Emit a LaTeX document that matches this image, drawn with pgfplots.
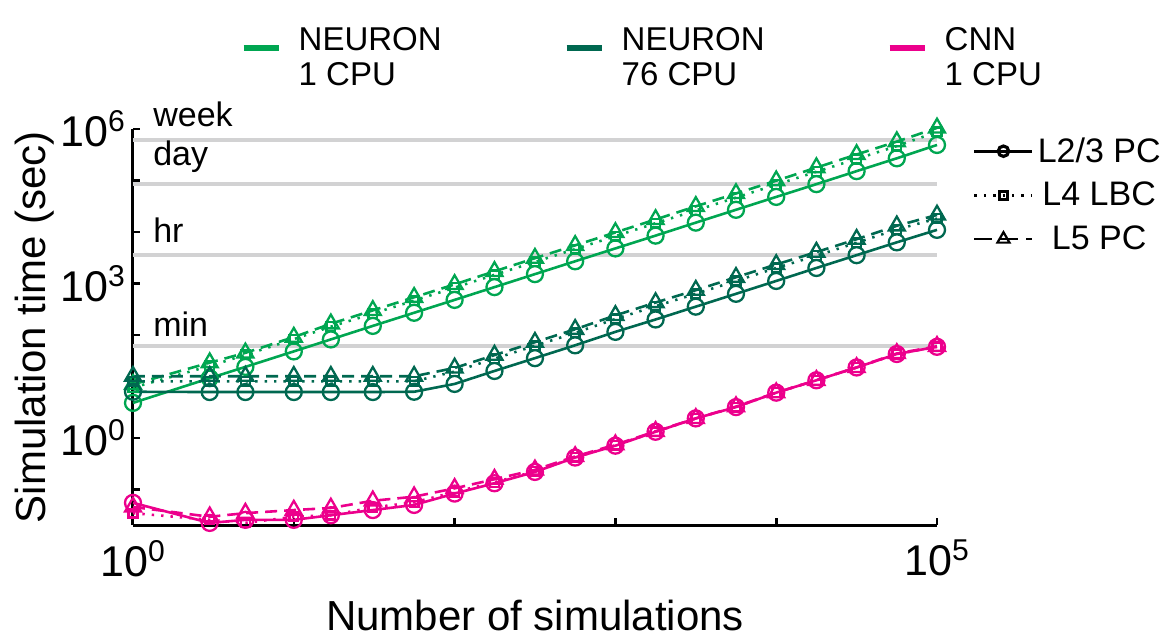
\documentclass[border=0pt]{standalone}
\usepackage{fontspec}
\setmainfont{Liberation Sans}
\usepackage{pgfplots}
\pgfplotsset{compat=1.18}
\definecolor{lg}{RGB}{0,166,81}
\definecolor{dg}{RGB}{0,104,80}
\definecolor{pk}{RGB}{236,0,140}
\definecolor{gl}{RGB}{210,210,211}
\pgfplotsset{
  cir/.style={line width=1.3pt, solid, mark=o, mark size=4pt, mark options={solid, line width=1.15pt}},
  sqr/.style={line width=1.3pt, dash pattern=on 1.2pt off 3.5pt, mark=square, mark size=2.2pt, mark options={solid, line width=1.15pt}},
  tri/.style={line width=1.3pt, dash pattern=on 6pt off 3.5pt, mark=triangle, mark size=4.6pt, mark options={solid, line width=1.15pt}},
}
\begin{document}
\begin{tikzpicture}
\useasboundingbox (-66.5pt,-57pt) rectangle (514.5pt,262.5pt);
\begin{axis}[
  at={(0pt,0pt)}, anchor=south west,
  scale only axis, width=402pt, height=198pt,
  xmode=log, ymode=log,
  xmin=1, xmax=1e5, ymin=0.0204, ymax=1e6,
  axis x line*=bottom, axis y line*=left,
  axis line style={line width=1.5pt, -},
  clip=false,
  xminorticks=false, yminorticks=false,
  tick align=inside, major tick length=3.5pt,
  every tick/.style={black, line width=1.3pt},
  xtick={1,10,100,1000,10000,100000},
  xticklabels={10\textsuperscript{0},,,,,10\textsuperscript{5}},
  ytick={0.1,1,10,100,1000,10000,100000,1000000},
  yticklabels={,10\textsuperscript{0},,,10\textsuperscript{3},,,10\textsuperscript{6}},
  tick label style={font=\fontsize{21.5pt}{24pt}\selectfont},
  xticklabel style={yshift=-4pt},
  xlabel={Number of simulations},
  ylabel={Simulation time (sec)},
  label style={font=\fontsize{21pt}{24pt}\selectfont},
  xlabel style={at={(axis description cs:0.5,-0.228)}, anchor=center},
  ylabel style={at={(axis description cs:-0.122,0.5)}, anchor=center},
  legend columns=3,
  legend image code/.code={\draw[#1, line width=3pt] (0pt,0pt) -- (17.5pt,0pt);},
  legend style={at={(axis description cs:0.126,1.205)}, anchor=west, draw=none, fill=none,
    font=\fontsize{16.5pt}{17.5pt}\selectfont,
    /tikz/every odd column/.append style={column sep=6.5pt},
    /tikz/every even column/.append style={column sep=5.5pt}},
]
\addlegendimage{lg}\addlegendentry{\parbox[c]{125pt}{NEURON\\1 CPU}}
\addlegendimage{dg}\addlegendentry{\parbox[c]{125pt}{NEURON\\76 CPU}}
\addlegendimage{pk}\addlegendentry{\parbox[c]{125pt}{CNN\\1 CPU}}

% reference time lines
\addplot[gl, line width=2pt, forget plot] coordinates {(1,604800) (100000,604800)};
\addplot[gl, line width=2pt, forget plot] coordinates {(1,86400) (100000,86400)};
\addplot[gl, line width=2pt, forget plot] coordinates {(1,3600) (100000,3600)};
\addplot[gl, line width=2pt, forget plot] coordinates {(1,60) (100000,60)};

% NEURON 1 CPU
\addplot[lg, cir, forget plot] coordinates {(1,4.8) (3,14.5) (5,24) (10,48) (17,82) (31,150) (56,270) (100,480) (177,850) (316,1520) (562,2700) (1000,4800) (1778,8500) (3162,15200) (5623,27000) (10000,48000) (17783,85000) (31623,152000) (56234,270000) (100000,490000)};
\addplot[lg, sqr, forget plot] coordinates {(1,9.5) (3,25) (5,41) (10,83) (17,145) (31,260) (56,465) (100,830) (177,1470) (316,2620) (562,4650) (1000,8300) (1778,14800) (3162,26200) (5623,46600) (10000,83000) (17783,148000) (31623,262000) (56234,466000) (100000,880000)};
\addplot[lg, tri, forget plot] coordinates {(1,11) (3,29) (5,45) (10,91) (17,165) (31,300) (56,540) (100,960) (177,1720) (316,3100) (562,5500) (1000,9800) (1778,17500) (3162,31500) (5623,56000) (10000,99000) (17783,178000) (31623,320000) (56234,570000) (100000,1050000)};

% NEURON 76 CPU
\addplot[dg, cir, forget plot] coordinates {(1,7.9) (3,7.8) (5,7.8) (10,7.8) (17,7.8) (31,7.8) (56,7.9) (100,11.2) (177,20) (316,35.5) (562,63) (1000,115) (1778,200) (3162,355) (5623,630) (10000,1120) (17783,2000) (31623,3550) (56234,6300) (100000,11000)};
\addplot[dg, sqr, forget plot] coordinates {(1,12.6) (3,12.6) (5,12.6) (10,12.6) (17,12.6) (31,12.6) (56,12.6) (100,19.5) (177,34.7) (316,61.7) (562,110) (1000,204) (1778,363) (3162,631) (5623,1120) (10000,2000) (17783,3470) (31623,6170) (56234,11200) (100000,18200)};
\addplot[dg, tri, forget plot] coordinates {(1,15.8) (3,15.8) (5,15.8) (10,15.8) (17,15.8) (31,15.8) (56,15.8) (100,22.9) (177,40.7) (316,72.4) (562,129) (1000,240) (1778,427) (3162,741) (5623,1320) (10000,2340) (17783,4070) (31623,7240) (56234,13200) (100000,21400)};

% CNN 1 CPU
\addplot[pk, cir, forget plot] coordinates {(1,0.055) (3,0.0224) (5,0.0257) (10,0.0257) (17,0.0316) (31,0.0398) (56,0.0501) (100,0.0832) (177,0.132) (316,0.219) (562,0.417) (1000,0.708) (1778,1.32) (3162,2.40) (5623,3.98) (10000,7.59) (17783,13.2) (31623,23.4) (56234,42.7) (100000,58.9)};
\addplot[pk, sqr, forget plot] coordinates {(1,0.0347) (3,0.0257) (5,0.0224) (10,0.0295) (17,0.0316) (31,0.0447) (56,0.0562) (100,0.0891) (177,0.138) (316,0.224) (562,0.417) (1000,0.724) (1778,1.32) (3162,2.40) (5623,3.98) (10000,7.59) (17783,13.2) (31623,23.4) (56234,42.7) (100000,58.9)};
\addplot[pk, tri, forget plot] coordinates {(1,0.0457) (3,0.0295) (5,0.0347) (10,0.0398) (17,0.0437) (31,0.0603) (56,0.0724) (100,0.105) (177,0.158) (316,0.240) (562,0.437) (1000,0.741) (1778,1.35) (3162,2.40) (5623,4.07) (10000,7.59) (17783,13.2) (31623,23.4) (56234,43.7) (100000,60.3)};

\node[anchor=base west, font=\fontsize{17pt}{20pt}\selectfont, inner sep=0pt] at (axis cs:1.33,1.1e6) {week};
\node[anchor=base west, font=\fontsize{17pt}{20pt}\selectfont, inner sep=0pt] at (axis cs:1.33,2.0e5) {day};
\node[anchor=base west, font=\fontsize{17pt}{20pt}\selectfont, inner sep=0pt] at (axis cs:1.33,6150) {hr};
\node[anchor=base west, font=\fontsize{17pt}{20pt}\selectfont, inner sep=0pt] at (axis cs:1.33,95) {min};
\end{axis}

\begin{axis}[
  at={(0pt,0pt)}, anchor=south west,
  scale only axis, width=402pt, height=198pt,
  hide axis, xmin=0, xmax=1, ymin=0, ymax=1,
  legend image code/.code={\draw[mark repeat=2, mark phase=2, #1] plot coordinates {(0pt,0pt) (14.5pt,0pt) (29pt,0pt)};},
  legend style={at={(axis description cs:1.037,1.0)}, anchor=north west, draw=none, fill=none,
    font=\fontsize{17pt}{19pt}\selectfont, row sep=4.5pt},
]
\addlegendimage{black, line width=1.3pt, solid, mark=o, mark size=2.6pt, mark options={solid, line width=1.6pt}}
\addlegendentry{L2/3 PC}
\addlegendimage{black, line width=1.3pt, dash pattern=on 1.2pt off 3.5pt, mark=square, mark size=2pt, mark options={solid, line width=1.1pt}}
\addlegendentry{L4 LBC}
\addlegendimage{black, line width=1.3pt, dash pattern=on 9pt off 4pt, mark=triangle, mark size=3.5pt, mark options={solid, line width=1.1pt}}
\addlegendentry{L5 PC}
\end{axis}
\end{tikzpicture}
\end{document}
